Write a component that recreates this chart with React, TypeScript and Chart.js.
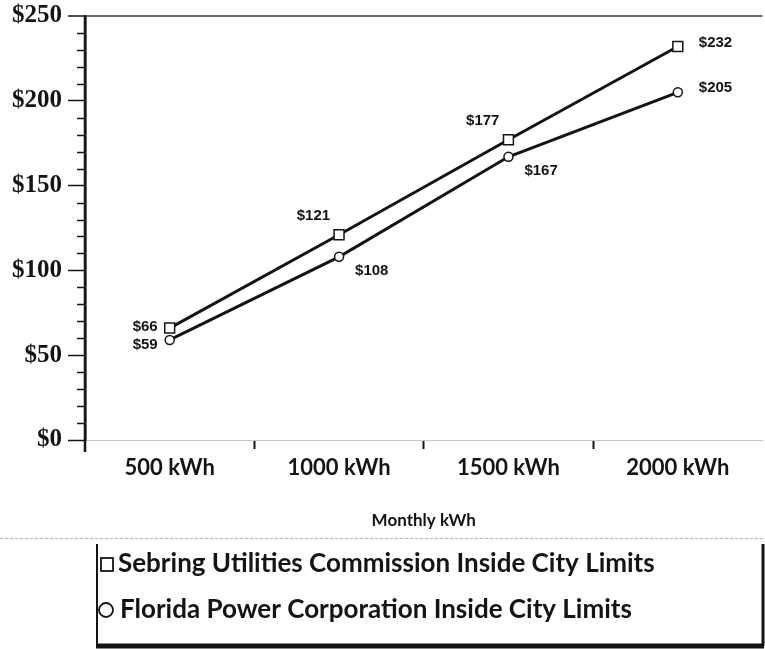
import React, { useEffect, useRef } from 'react';
import { Chart, registerables } from 'chart.js';

Chart.register(...registerables);

const categories = ['500 kWh', '1000 kWh', '1500 kWh', '2000 kWh'];
const sebringValues = [66, 121, 177, 232];
const floridaValues = [59, 108, 167, 205];
const seriesNames = [
  'Sebring Utilities Commission Inside City Limits',
  'Florida Power Corporation Inside City Limits',
];
const yMin = 0;
const yMax = 250;
const yMajorStep = 50;
const yMinorStep = 10;
const xTitle = 'Monthly kWh';

const INK = '#141414';

const minorTickPlugin = {
  id: 'minorTicks',
  afterDraw(chart: any) {
    const ctx = chart.ctx;
    const ys = chart.scales.y;
    ctx.save();
    ctx.strokeStyle = INK;
    ctx.lineWidth = 1.5;
    for (let v = yMin; v <= yMax; v += yMinorStep) {
      if (v % yMajorStep === 0) continue;
      const py = Math.round(ys.getPixelForValue(v)) + 0.5;
      ctx.beginPath();
      ctx.moveTo(ys.right - 8, py);
      ctx.lineTo(ys.right, py);
      ctx.stroke();
    }
    ctx.lineWidth = 2.5;
    ctx.beginPath();
    ctx.moveTo(ys.right, chart.chartArea.top);
    ctx.lineTo(ys.right, chart.chartArea.bottom + 12);
    ctx.stroke();
    ctx.restore();
  },
};

const valueLabelPlugin = {
  id: 'valueLabels',
  afterDatasetsDraw(chart: any) {
    const ctx = chart.ctx;
    ctx.save();
    ctx.font = 'bold 15px "Liberation Sans Narrow", "Liberation Sans", Arial, sans-serif';
    ctx.fillStyle = INK;
    ctx.textBaseline = 'middle';
    chart.data.datasets.forEach((ds: any, di: number) => {
      const meta = chart.getDatasetMeta(di);
      meta.data.forEach((pt: any, i: number) => {
        const v = ds.data[i];
        const n = meta.data.length;
        let dx = 0;
        let dy = 0;
        let align: CanvasTextAlign = 'left';
        if (i === n - 1) {
          dx = 21;
          dy = -4;
          align = 'left';
        } else if (i === 0) {
          dx = -12;
          dy = di === 0 ? -1 : 5;
          align = 'right';
        } else if (di === 0) {
          dx = -9;
          dy = -19;
          align = 'right';
        } else {
          dx = 16;
          dy = 14;
          align = 'left';
        }
        ctx.textAlign = align;
        ctx.fillText('$' + v, pt.x + dx, pt.y + dy);
      });
    });
    ctx.restore();
  },
};

const legendPlugin = {
  id: 'boxLegend',
  afterDraw(chart: any) {
    const ctx = chart.ctx;
    const left = 97;
    const top = 538;
    const right = 763;
    const bottom = 646;
    ctx.save();
    ctx.strokeStyle = '#b5b5b5';
    ctx.lineWidth = 1;
    ctx.setLineDash([3, 2]);
    ctx.beginPath();
    ctx.moveTo(0, top + 0.5);
    ctx.lineTo(right, top + 0.5);
    ctx.stroke();
    ctx.setLineDash([]);
    ctx.strokeStyle = INK;
    ctx.lineWidth = 2;
    ctx.beginPath();
    ctx.moveTo(left, top + 6);
    ctx.lineTo(left, bottom);
    ctx.stroke();
    ctx.lineWidth = 3;
    ctx.beginPath();
    ctx.moveTo(right, top + 6);
    ctx.lineTo(right, bottom);
    ctx.stroke();
    ctx.lineWidth = 5;
    ctx.beginPath();
    ctx.moveTo(left - 1, bottom);
    ctx.lineTo(right + 1, bottom);
    ctx.stroke();

    ctx.font = 'bold 26px Lato, "Open Sans", sans-serif';
    ctx.fillStyle = INK;
    ctx.textBaseline = 'middle';
    ctx.textAlign = 'left';
    const rows = [564, 610];
    chart.data.datasets.forEach((ds: any, di: number) => {
      const cy = rows[di];
      ctx.lineWidth = 1.8;
      ctx.strokeStyle = INK;
      if (di === 0) {
        ctx.strokeRect(101, cy - 6, 12, 13);
        ctx.fillText(ds.label, 118, cy);
      } else {
        ctx.beginPath();
        ctx.arc(106, cy, 7, 0, Math.PI * 2);
        ctx.stroke();
        ctx.fillText(ds.label, 120, cy);
      }
    });
    ctx.restore();
  },
};

export default function App() {
  const canvasRef = useRef<HTMLCanvasElement | null>(null);

  useEffect(() => {
    if (!canvasRef.current) return;
    const chart = new Chart(canvasRef.current, {
      type: 'line',
      data: {
        labels: categories,
        datasets: [
          {
            label: seriesNames[0],
            data: sebringValues,
            borderColor: INK,
            borderWidth: 3,
            pointStyle: 'rect',
            pointRadius: 7,
            pointBorderWidth: 1.5,
            pointBorderColor: INK,
            pointBackgroundColor: '#ffffff',
            tension: 0,
          },
          {
            label: seriesNames[1],
            data: floridaValues,
            borderColor: INK,
            borderWidth: 3,
            pointStyle: 'circle',
            pointRadius: 4.5,
            pointBorderWidth: 1.5,
            pointBorderColor: INK,
            pointBackgroundColor: '#ffffff',
            tension: 0,
          },
        ],
      },
      options: {
        responsive: false,
        animation: false,
        devicePixelRatio: 1,
        layout: { padding: { top: 16, left: 0, right: 0, bottom: 109 } },
        plugins: {
          legend: { display: false },
          tooltip: { enabled: false },
          title: { display: false },
        },
        scales: {
          x: {
            type: 'category',
            offset: true,
            afterFit: (scale: any) => {
              scale.height = 100;
            },
            grid: {
              offset: true,
              drawOnChartArea: false,
              drawTicks: true,
              tickLength: 9,
              tickWidth: 2,
              tickColor: (ctx: any) =>
                ctx.type === 'tick' && ctx.index > 0 && ctx.index < categories.length
                  ? INK
                  : 'rgba(0,0,0,0)',
            },
            border: { display: true, color: '#c8c8c8', width: 1 },
            ticks: {
              color: INK,
              padding: 6,
              font: { family: 'Lato, "Open Sans", sans-serif', size: 22, weight: 'bold' },
            },
            title: {
              display: true,
              text: xTitle,
              color: INK,
              font: { family: 'Lato, "Open Sans", sans-serif', size: 17, weight: 'bold' },
              padding: { top: 4, bottom: 9 },
            },
          },
          y: {
            type: 'linear',
            min: yMin,
            max: yMax,
            afterFit: (scale: any) => {
              scale.width = 85;
              scale.paddingTop = 0;
              scale.paddingBottom = 0;
            },
            ticks: {
              stepSize: yMajorStep,
              color: INK,
              padding: 6,
              callback: (v: any) => '$' + v,
              font: {
                family: '"Liberation Serif", "DejaVu Serif", serif',
                size: 25,
                weight: 'bold',
                lineHeight: 1,
              },
            },
            grid: {
              drawOnChartArea: true,
              drawTicks: true,
              tickLength: 17,
              tickWidth: 1.5,
              tickColor: INK,
              lineWidth: (ctx: any) => (ctx.tick && ctx.tick.value === yMax ? 2 : 1),
              color: (ctx: any) =>
                ctx.tick && ctx.tick.value === yMax ? '#6a6a6a' : 'rgba(0,0,0,0)',
            },
            border: { display: true, color: INK, width: 2.5 },
          },
        },
      },
      plugins: [minorTickPlugin, valueLabelPlugin, legendPlugin],
    } as any);
    return () => chart.destroy();
  }, []);

  return (
    <div
      style={{
        position: 'fixed',
        left: 0,
        top: 0,
        width: 765,
        height: 649,
        overflow: 'hidden',
        background: '#ffffff',
      }}
    >
      <canvas ref={canvasRef} width={771} height={649} style={{ display: 'block' }} />
    </div>
  );
}
